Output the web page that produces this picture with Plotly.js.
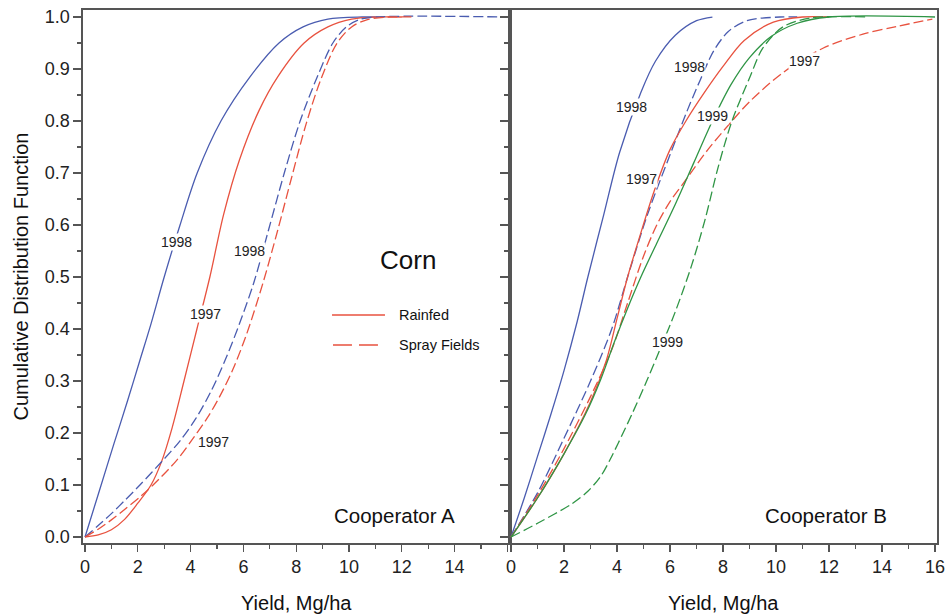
<!DOCTYPE html>
<html><head><meta charset="utf-8">
<script src="https://cdn.plot.ly/plotly-3.0.1.min.js"></script>
<style>html,body{margin:0;padding:0;background:#fff}#chart{width:945px;height:614px}</style>
</head><body><div id="chart"></div>
<script>
// ---- Cooperator A (left panel) ----
const aRain98X = [0, 0.55, 1.1, 1.6, 2.08, 2.5, 3.0, 3.6, 4.25, 5.15, 6.25, 7.35, 8.26, 9.2, 10.5, 11];
const aRain98Y = [0, 0.09, 0.18, 0.26, 0.34, 0.41, 0.5, 0.6, 0.7, 0.8, 0.885, 0.95, 0.981, 0.996, 1, 1];
const aRain97X = [0, 0.5, 1, 1.5, 2, 2.5, 2.9, 3.3, 3.75, 4.24, 4.73, 5.25, 5.85, 6.6, 7.3, 8.3, 9.2, 10.1, 11, 12];
const aRain97Y = [0, 0.004, 0.014, 0.034, 0.065, 0.1, 0.145, 0.21, 0.3, 0.4, 0.5, 0.62, 0.725, 0.821, 0.885, 0.95, 0.981, 0.996, 1, 1];
const aSpray98X = [0, 0.5, 1, 1.5, 2.08, 2.96, 3.6, 4.2, 4.8, 5.35, 5.85, 6.4, 6.95, 7.55, 8.15, 8.8, 9.39, 9.9, 10.4, 11, 16];
const aSpray98Y = [0, 0.022, 0.045, 0.07, 0.1, 0.148, 0.185, 0.228, 0.283, 0.345, 0.41, 0.49, 0.59, 0.7, 0.8, 0.885, 0.95, 0.981, 0.995, 1, 1];
const aSpray97X = [0, 0.5, 1, 1.5, 2.08, 2.58, 3.48, 4.1, 4.62, 5.1, 5.6, 6.12, 6.75, 7.3, 7.82, 8.38, 8.95, 9.55, 10.1, 10.7, 11.5, 12.5];
const aSpray97Y = [0, 0.015, 0.033, 0.053, 0.077, 0.1, 0.148, 0.19, 0.228, 0.27, 0.322, 0.39, 0.49, 0.59, 0.69, 0.795, 0.882, 0.95, 0.981, 0.995, 1, 1];

// ---- Cooperator B (right panel) ----
const bRain98X = [0, 0.5, 1.0, 1.5, 2.0, 2.5, 2.9, 3.5, 4.1, 4.9, 5.45, 6.2, 7.0, 7.6];
const bRain98Y = [0, 0.075, 0.155, 0.235, 0.32, 0.415, 0.5, 0.62, 0.74, 0.855, 0.915, 0.965, 0.993, 1.0];
const bSpray98X = [0, 1, 2, 3, 3.8, 4.4, 5.15, 6.0, 6.65, 7.15, 7.65, 8.2, 8.9, 10.15, 10.8];
const bSpray98Y = [0, 0.085, 0.19, 0.3, 0.4, 0.5, 0.62, 0.735, 0.82, 0.88, 0.935, 0.972, 0.993, 1.0, 1.0];
const bRain97X = [0, 1, 2, 3, 3.6, 4.0, 4.4, 4.9, 5.4, 6.0, 6.6, 7.3, 8.0, 8.8, 9.9, 11, 12];
const bRain97Y = [0, 0.075, 0.16, 0.26, 0.34, 0.42, 0.5, 0.585, 0.665, 0.745, 0.8, 0.855, 0.905, 0.955, 0.99, 1.0, 1.0];
const bSpray97X = [0, 1, 2, 3, 3.8, 4.4, 5.0, 5.5, 6.0, 6.5, 7.43, 8.34, 9.02, 10.26, 11.77, 13.28, 14.57, 15.9];
const bSpray97Y = [0, 0.08, 0.17, 0.27, 0.36, 0.45, 0.54, 0.6, 0.645, 0.68, 0.745, 0.8, 0.838, 0.893, 0.94, 0.967, 0.982, 0.996];
const bRain99X = [0, 1, 2, 2.8, 3.4, 3.9, 4.4, 4.9, 5.5, 6.2, 6.9, 7.6, 8.3, 9.0, 9.8, 10.8, 12, 16];
const bRain99Y = [0, 0.075, 0.16, 0.235, 0.305, 0.375, 0.44, 0.5, 0.565, 0.64, 0.72, 0.8, 0.87, 0.922, 0.962, 0.988, 1.0, 1.0];
const bSpray99X = [0, 1.02, 2.3, 2.9, 3.4, 3.75, 4.04, 4.57, 5.06, 5.55, 6.19, 6.8, 7.32, 7.81, 8.34, 9.02, 9.5, 10.26, 11.3, 13.5];
const bSpray99Y = [0, 0.027, 0.064, 0.088, 0.118, 0.15, 0.18, 0.237, 0.293, 0.352, 0.432, 0.52, 0.61, 0.71, 0.8, 0.885, 0.94, 0.981, 0.998, 1.0];

// ---- tick labels ----
const xTickVals = [0, 2, 4, 6, 8, 10, 12, 14, 16];
const xTickTextLeft = ["0", "2", "4", "6", "8", "10", "12", "14", ""];
const xTickTextRight = ["0", "2", "4", "6", "8", "10", "12", "14", "16"];

// ---- curve labels ----
const labelText = ["1998", "1998", "1997", "1997", "1998", "1998", "1997", "1999", "1997", "1999"];
const labelPanel = ["A", "A", "A", "A", "B", "B", "B", "B", "B", "B"];
const labelX = [3.48, 6.25, 4.55, 4.85, 4.53, 6.72, 4.94, 7.62, 11.06, 5.92];
const labelY = [0.567, 0.55, 0.429, 0.183, 0.827, 0.904, 0.688, 0.81, 0.915, 0.375];

const BLUE = '#4a5cb0', RED = '#e8523f', GREEN = '#2f9545';
const DASH = '10px,4px';

function tr(x, y, color, dashed, panel) {
  return {
    x: x, y: y, type: 'scatter', mode: 'lines',
    xaxis: panel === 'A' ? 'x' : 'x2', yaxis: panel === 'A' ? 'y' : 'y2',
    line: {color: color, width: 1.3, dash: dashed ? DASH : 'solid', shape: 'spline', smoothing: 0.9},
    showlegend: false, hoverinfo: 'skip'
  };
}

const data = [
  tr(aRain98X, aRain98Y, BLUE, false, 'A'),
  tr(aRain97X, aRain97Y, RED, false, 'A'),
  tr(aSpray98X, aSpray98Y, BLUE, true, 'A'),
  tr(aSpray97X, aSpray97Y, RED, true, 'A'),
  tr(bRain98X, bRain98Y, BLUE, false, 'B'),
  tr(bSpray98X, bSpray98Y, BLUE, true, 'B'),
  tr(bSpray97X, bSpray97Y, RED, true, 'B'),
  tr(bRain97X, bRain97Y, RED, false, 'B'),
  tr(bSpray99X, bSpray99Y, GREEN, true, 'B'),
  tr(bRain99X, bRain99Y, GREEN, false, 'B')
];

const AX = '#555';
const FONT = 'Liberation Sans, Arial, sans-serif';
const xBase = {
  showline: true, linecolor: AX, linewidth: 1.6, mirror: true,
  ticks: 'outside', ticklen: 7, tickwidth: 1.3, tickcolor: AX,
  tickmode: 'array', tickvals: xTickVals, ticklabeloverflow: 'allow',
  minor: {tickmode: 'linear', tick0: 1, dtick: 2, ticks: 'outside', ticklen: 4, tickwidth: 1.3, tickcolor: AX, showgrid: false},
  showgrid: false, zeroline: false,
  tickfont: {family: FONT, size: 18, color: '#222'}
};
const yBase = {
  range: [-0.0115, 1.0135],
  showline: true, linecolor: AX, linewidth: 1.6, mirror: true,
  ticks: 'outside', ticklen: 8, tickwidth: 1.3, tickcolor: AX,
  tickmode: 'linear', tick0: 0, dtick: 0.1, tickformat: '.1f',
  minor: {tickmode: 'linear', tick0: 0.05, dtick: 0.1, ticks: 'outside', ticklen: 4, tickwidth: 1.3, tickcolor: AX, showgrid: false},
  showgrid: false, zeroline: false,
  tickfont: {family: FONT, size: 18, color: '#222'}
};

const annotations = [];
for (let i = 0; i < labelText.length; i++) {
  annotations.push({
    text: labelText[i], x: labelX[i], y: labelY[i],
    xref: labelPanel[i] === 'A' ? 'x' : 'x2', yref: labelPanel[i] === 'A' ? 'y' : 'y2',
    xanchor: 'center', yanchor: 'middle',
    showarrow: false, bgcolor: '#fff', borderpad: 0,
    font: {family: FONT, size: 14, color: '#222'}
  });
}
function pa(text, x, y, size, extra) {
  return Object.assign({text: text, xref: 'paper', yref: 'paper', x: x, y: y, xanchor: 'center', yanchor: 'middle',
    showarrow: false, font: {family: FONT, size: size, color: '#111'}}, extra || {});
}
annotations.push(
  pa('Corn', 0.3806, 0.531, 26),
  pa('Rainfed', 0.3677, 0.4278, 14.5, {xanchor: 'left'}),
  pa('Spray Fields', 0.3677, 0.3715, 14.5, {xanchor: 'left'}),
  pa('Cooperator A', 0.365, 0.0525, 20.5),
  pa('Cooperator B', 0.870, 0.0525, 20.5),
  pa('Yield, Mg/ha', 0.25, -0.1126, 20),
  pa('Yield, Mg/ha', 0.75, -0.1126, 20),
  pa('Cumulative Distribution Function', -0.0726, 0.5, 20, {textangle: -90})
);

const layout = {
  width: 945, height: 614,
  margin: {l: 83, r: 8, t: 10, b: 71},
  paper_bgcolor: '#fff', plot_bgcolor: '#fff',
  showlegend: false,
  xaxis: Object.assign({}, xBase, {domain: [0, 0.5], range: [-0.076, 16.1], ticktext: xTickTextLeft, anchor: 'y'}),
  xaxis2: Object.assign({}, xBase, {domain: [0.5, 1], range: [-0.038, 16.075], ticktext: xTickTextRight, anchor: 'y2'}),
  yaxis: Object.assign({}, yBase, {anchor: 'x'}),
  yaxis2: Object.assign({}, yBase, {anchor: 'x2', showticklabels: false}),
  annotations: annotations,
  shapes: [
    {type: 'line', xref: 'paper', yref: 'paper', x0: 0.2916, x1: 0.3536, y0: 0.4278, y1: 0.4278, line: {color: RED, width: 1.3}},
    {type: 'line', xref: 'paper', yref: 'paper', x0: 0.2927, x1: 0.3501, y0: 0.3715, y1: 0.3715, line: {color: RED, width: 1.3, dash: '19px,7px'}}
  ]
};

Plotly.newPlot('chart', data, layout, {staticPlot: true, displayModeBar: false});
</script>
</body></html>
